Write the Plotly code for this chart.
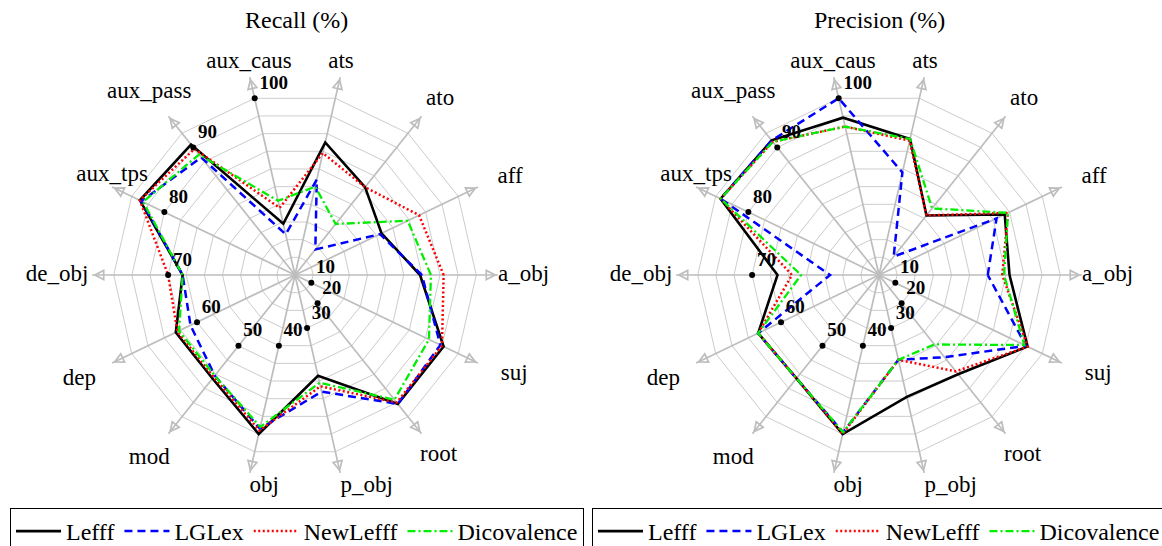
import plotly.graph_objects as go

categories = ["a_obj", "aff", "ato", "ats", "aux_caus", "aux_pass", "aux_tps",
              "de_obj", "dep", "mod", "obj", "p_obj", "root", "suj"]
category_labels = ["a_obj", "aff", "ato", "ats", "aux_caus", "aux_pass", "aux_tps",
                   "de_obj", "dep", "mod", "obj", "p_obj", "root", "suj"]
series_names = ["Lefff", "LGLex", "NewLefff", "Dicovalence"]

recall_lefff = [69, 53, 62, 75, 29, 92, 95, 62, 73, 73, 90, 57, 91, 91]
recall_lglex = [70, 52, 18, 54, 23, 83, 94, 62, 64, 71, 87, 66, 91, 89]
recall_newlefff = [82, 76, 62, 69, 38, 89, 95, 70, 72, 72, 88, 63, 90, 90]
recall_dicovalence = [75, 69, 36, 50, 42, 85, 93, 62, 71, 71, 86, 61, 88, 82]

precision_lefff = [72, 77, 42, 77, 89, 95, 97, 56, 74, 73, 90, 69, 70, 91]
precision_lglex = [60, 72, 13, 58, 100, 95, 97, 27, 74, 73, 89, 48, 58, 90]
precision_newlefff = [68, 79, 42, 76, 84, 94, 97, 48, 74, 73, 90, 48, 68, 91]
precision_dicovalence = [69, 79, 47, 77, 84, 94, 97, 43, 74, 73, 89, 48, 49, 89]

tick_values = [10, 20, 30, 40, 50, 60, 70, 80, 90, 100]
tick_labels = ["10", "20", "30", "40", "50", "60", "70", "80", "90", "100"]
tick_axes = ["suj", "root", "p_obj", "obj", "mod", "dep", "de_obj",
             "aux_tps", "aux_pass", "aux_caus"]

panel_titles = ["Recall (%)", "Precision (%)"]

# ---- styles ----
FONT = "Liberation Serif"
styles = {
    "Lefff": dict(color="#000000", dash="solid", width=2.6),
    "LGLex": dict(color="#0000ff", dash="8px,5px", width=2.5),
    "NewLefff": dict(color="#ff0000", dash="2px,2.5px", width=2.5),
    "Dicovalence": dict(color="#00ee00", dash="8px,3px,2px,3px", width=2.3),
}
# placement of the axis-name labels (radius in axis units, anchor)
label_place = {
    "a_obj": (112, "middle right"), "aff": (124, "middle right"),
    "ato": (116, "top right"), "ats": (114, "top center"),
    "aux_caus": (114, "top center"), "aux_pass": (129, "middle center"),
    "aux_tps": (112, "top center"), "de_obj": (114, "middle left"),
    "dep": (132, "middle center"), "mod": (129, "middle center"),
    "obj": (113, "bottom right"), "p_obj": (113, "bottom right"),
    "root": (127, "middle center"), "suj": (126, "middle right"),
}
R_SPOKE = 112      # length of the axis spokes
R_RANGE = 140      # radial range of the subplot (room for labels)
UNIT_PX = 1.8125   # pixels per radial unit
SPOKE = "#bdbdbd"
RING = "#cccccc"

panels = [
    ("polar", "legend", [recall_lefff, recall_lglex, recall_newlefff, recall_dicovalence]),
    ("polar2", "legend2", [precision_lefff, precision_lglex, precision_newlefff, precision_dicovalence]),
]

fig = go.Figure()
n = len(categories)
for polar_id, legend_id, data in panels:
    # spokes
    sr, st_ = [], []
    for c in categories:
        sr += [0, R_SPOKE, None]
        st_ += [c, c, None]
    fig.add_trace(go.Scatterpolar(
        r=sr, theta=st_, mode="lines", line=dict(color=SPOKE, width=1.7),
        connectgaps=False, subplot=polar_id, showlegend=False, hoverinfo="skip"))
    # arrow heads at the end of each spoke
    fig.add_trace(go.Scatterpolar(
        r=[R_SPOKE - 1.5] * n, theta=categories, mode="markers",
        marker=dict(symbol="arrow-up-open", size=9, color=SPOKE,
                    line=dict(color=SPOKE, width=1.7),
                    angle=[90 - i * 360.0 / n for i in range(n)], angleref="up"),
        subplot=polar_id, showlegend=False, hoverinfo="skip"))
    # axis-name labels
    fig.add_trace(go.Scatterpolar(
        r=[label_place[c][0] for c in categories], theta=categories, mode="text",
        text=category_labels, textposition=[label_place[c][1] for c in categories],
        textfont=dict(family=FONT, size=23, color="black"),
        subplot=polar_id, showlegend=False, hoverinfo="skip"))
    for name, vals in zip(series_names, data):
        st = styles[name]
        fig.add_trace(go.Scatterpolar(
            r=vals + vals[:1], theta=categories + categories[:1], mode="lines",
            name=name, line=dict(color=st["color"], dash=st["dash"], width=st["width"]),
            subplot=polar_id, legend=legend_id))
    fig.add_trace(go.Scatterpolar(
        r=tick_values, theta=tick_axes, mode="markers+text",
        text=["<b>%s</b>" % t for t in tick_labels], textposition="top right",
        textfont=dict(family=FONT, size=19, color="black"),
        marker=dict(color="black", size=6),
        subplot=polar_id, showlegend=False, hoverinfo="skip"))

W, H = 1162, 546
rad = R_RANGE * UNIT_PX
centers = [(295, 275), (879, 275)]

def polar_layout(cx, cy):
    return dict(
        domain=dict(x=[(cx - rad) / W, (cx + rad) / W],
                    y=[(H - cy - rad) / H, (H - cy + rad) / H]),
        bgcolor="rgba(0,0,0,0)",
        gridshape="linear",
        radialaxis=dict(range=[0, R_RANGE], tickvals=tick_values, showticklabels=False,
                        showline=False, ticks="", gridcolor=RING, gridwidth=1,
                        layer="below traces"),
        angularaxis=dict(type="category", categoryarray=categories,
                         direction="counterclockwise", rotation=0,
                         showline=False, ticks="", showticklabels=False,
                         showgrid=False, layer="below traces"),
    )

legend_common = dict(orientation="h", bordercolor="black", borderwidth=1,
                     font=dict(family=FONT, size=24, color="black"),
                     bgcolor="white", yanchor="top", xanchor="left",
                     itemwidth=45, tracegroupgap=0)

fig.update_layout(
    width=W, height=H,
    margin=dict(l=0, r=0, t=0, b=0, autoexpand=False),
    paper_bgcolor="white",
    polar=polar_layout(*centers[0]),
    polar2=polar_layout(*centers[1]),
    legend=dict(x=10 / W, y=(H - 508) / H, **legend_common),
    legend2=dict(x=592 / W, y=(H - 508) / H, **legend_common),
    annotations=[
        dict(text=panel_titles[0], x=296 / W, y=1 - 20 / H, xref="paper", yref="paper",
             xanchor="center", yanchor="middle", showarrow=False,
             font=dict(family=FONT, size=24, color="black")),
        dict(text=panel_titles[1], x=879 / W, y=1 - 20 / H, xref="paper", yref="paper",
             xanchor="center", yanchor="middle", showarrow=False,
             font=dict(family=FONT, size=24, color="black")),
    ],
)

fig.write_html("out.html", config={"displayModeBar": False},
               post_script="document.body.style.margin='0px';")
